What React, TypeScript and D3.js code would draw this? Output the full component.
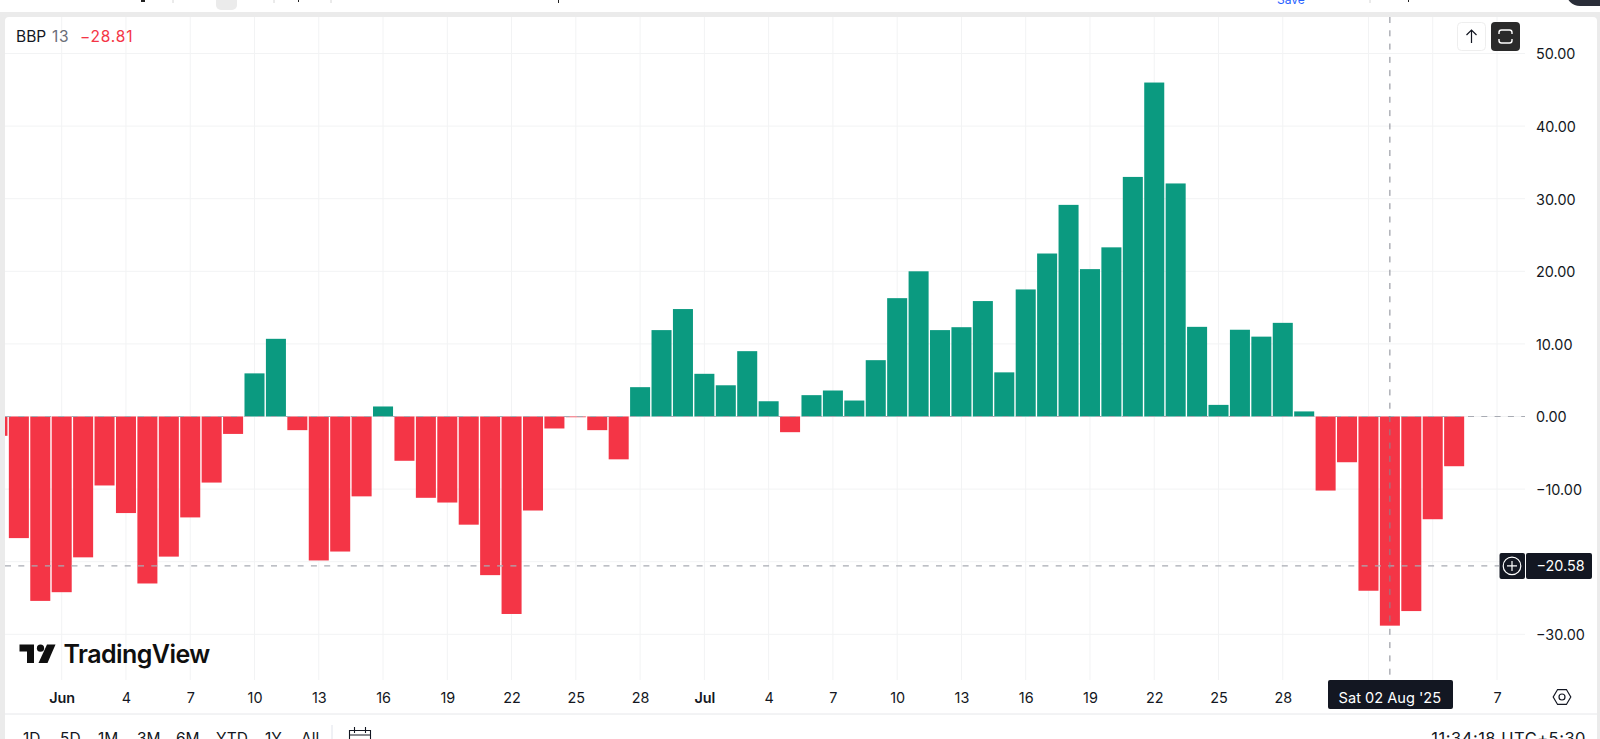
import { useEffect, useRef } from 'react';
import * as d3 from 'd3';

// daily BBP 13 values, first bar is 29 May 2025 (clipped by the pane edge)
const firstDay = '2025-05-29';
const bbpValues = [
    -2.66, -16.75, -25.4, -24.2, -19.4, -9.5, -13.3, -23, -19.3, -13.9, -9.1, -2.4,
    5.94, 10.7, -1.88, -19.83, -18.6, -11, 1.38, -6.1, -11.2, -11.85, -14.9, -21.85,
    -27.2, -12.95, -1.65, -0.1, -1.88, -5.9, 4.04, 11.9, 14.8, 5.88, 4.3, 9, 2.1,
    -2.16, 2.94, 3.58, 2.2, 7.76, 16.3, 20, 11.9, 12.3, 15.9, 6.08, 17.5, 22.45,
    29.15, 20.3, 23.3, 33, 46, 32.1, 12.35, 1.6, 11.95, 11, 12.9, 0.7, -10.2, -6.3,
    -24, -28.81, -26.8, -14.15, -6.85,
];

const priceTicks = [50, 40, 30, 20, 10, 0, -10, -20, -30];
const gridDays = [
    '2025-06-01', '2025-06-04', '2025-06-07', '2025-06-10', '2025-06-13', '2025-06-16',
    '2025-06-19', '2025-06-22', '2025-06-25', '2025-06-28', '2025-07-01', '2025-07-04',
    '2025-07-07', '2025-07-10', '2025-07-13', '2025-07-16', '2025-07-19', '2025-07-22',
    '2025-07-25', '2025-07-28', '2025-08-01', '2025-08-04', '2025-08-07',
];
// Aug and 4 sit under the crosshair date label, -20.00 under the price label
const labelDays = gridDays.filter(d => d !== '2025-08-01' && d !== '2025-08-04');
const labelPrices = priceTicks.filter(p => p !== -20);
const rangeButtons = ['1D', '5D', '1M', '3M', '6M', 'YTD', '1Y', 'All'];
const rangeButtonX = [23, 60, 98, 137, 176, 216, 265, 301];
const crosshairDay = '2025-08-02';
const crosshairValue = -20.58;

const UP = '#0B9A80';
const DOWN = '#F43546';
const INK = '#131722';
const GRID = '#f2f3f4';
const FONT = 'Inter, sans-serif';

const parseDay = d3.utcParse('%Y-%m-%d');
const minus = (s: string) => s.replace('-', '\u2212');

export default function App() {
    const svgRef = useRef<SVGSVGElement>(null);

    useEffect(() => {
        if (!svgRef.current) return;
        document.body.style.margin = '0';

        const width = 1600;
        const height = 739;
        const pane = { left: 5, right: 1525, top: 17, bottom: 680 };

        const svg = d3.select(svgRef.current);
        svg.selectAll('*').remove();
        svg.attr('font-family', FONT);

        // Scales
        const xScale = d3.scaleUtc()
            .domain([parseDay('2025-06-01') as Date, parseDay('2025-08-07') as Date])
            .range([61.7, 1497]);
        const yScale = d3.scaleLinear().domain([-30, 50]).range([634.3, 53.5]);

        const start = parseDay(firstDay) as Date;
        const bars = bbpValues.map((value, i) => ({ date: d3.utcDay.offset(start, i), value }));

        // Window frame
        svg.append('rect').attr('width', width).attr('height', height).attr('fill', '#ffffff');
        svg.append('rect').attr('y', 12).attr('width', width).attr('height', height - 12).attr('fill', '#ebebeb');
        svg.append('rect')
            .attr('x', pane.left).attr('y', pane.top)
            .attr('width', 1592).attr('height', height)
            .attr('rx', 4)
            .attr('fill', '#ffffff');

        // Clipped bits of the page toolbar above the chart
        [173, 274, 331, 1370].forEach(x => {
            svg.append('line').attr('x1', x).attr('x2', x).attr('y1', 0).attr('y2', 3).attr('stroke', '#d6d6d6');
        });
        svg.append('rect').attr('x', 216).attr('y', -6).attr('width', 21).attr('height', 16).attr('rx', 5).attr('fill', '#ebebeb');
        svg.append('rect').attr('x', 141).attr('y', 0).attr('width', 4).attr('height', 2).attr('fill', '#222');
        svg.append('rect').attr('x', 298).attr('y', 0).attr('width', 1).attr('height', 2).attr('fill', '#222');
        svg.append('rect').attr('x', 558).attr('y', 0).attr('width', 1).attr('height', 3).attr('fill', '#222');
        svg.append('rect').attr('x', 1408).attr('y', 0).attr('width', 1).attr('height', 2).attr('fill', '#222');
        svg.append('rect').attr('x', 1566).attr('y', -24).attr('width', 60).attr('height', 30).attr('rx', 14).attr('fill', '#2a2e39');
        svg.append('text').attr('x', 1277).attr('y', 4).attr('font-size', 12).attr('fill', '#2962ff').text('Save');

        const defs = svg.append('defs');
        defs.append('clipPath').attr('id', 'pane-clip').append('rect')
            .attr('x', pane.left).attr('y', pane.top)
            .attr('width', pane.right - pane.left).attr('height', pane.bottom - pane.top);

        // Grid
        const grid = svg.append('g').attr('stroke', GRID).attr('stroke-width', 1);
        grid.selectAll('.v')
            .data(gridDays)
            .join('line')
            .attr('x1', d => xScale(parseDay(d) as Date))
            .attr('x2', d => xScale(parseDay(d) as Date))
            .attr('y1', pane.top)
            .attr('y2', pane.bottom);
        grid.selectAll('.h')
            .data(priceTicks)
            .join('line')
            .attr('x1', pane.left)
            .attr('x2', pane.right)
            .attr('y1', d => yScale(d))
            .attr('y2', d => yScale(d));

        // Histogram
        const dayStep = xScale(d3.utcDay.offset(start, 1)) - xScale(start);
        const barWidth = dayStep - 1.4;
        svg.append('g')
            .attr('clip-path', 'url(#pane-clip)')
            .selectAll('rect')
            .data(bars)
            .join('rect')
            .attr('x', d => xScale(d.date) - barWidth / 2)
            .attr('width', barWidth)
            .attr('y', d => yScale(Math.max(d.value, 0)))
            .attr('height', d => Math.abs(yScale(d.value) - yScale(0)))
            .attr('fill', d => (d.value >= 0 ? UP : DOWN));

        // Zero level and crosshair
        const dash = '6 7.3';
        svg.append('line')
            .attr('x1', pane.left).attr('x2', pane.right)
            .attr('y1', yScale(0)).attr('y2', yScale(0))
            .attr('stroke', '#a8abb3').attr('stroke-width', 1.2).attr('stroke-dasharray', dash);
        svg.append('line')
            .attr('x1', pane.left).attr('x2', 1499)
            .attr('y1', yScale(crosshairValue)).attr('y2', yScale(crosshairValue))
            .attr('stroke', '#a8abb3').attr('stroke-width', 1.2).attr('stroke-dasharray', dash);
        const crossX = xScale(parseDay(crosshairDay) as Date);
        svg.append('line')
            .attr('x1', crossX).attr('x2', crossX)
            .attr('y1', pane.top).attr('y2', pane.bottom)
            .attr('stroke', '#868993').attr('stroke-width', 1).attr('stroke-dasharray', dash);

        // Price axis
        const yAxis = d3.axisRight(yScale)
            .tickValues(labelPrices)
            .tickSize(0)
            .tickPadding(0)
            .tickFormat(d => minus(d3.format('.2f')(d as number)));
        const yAxisG = svg.append('g').attr('transform', 'translate(1536,0.8)').call(yAxis);
        yAxisG.select('.domain').remove();
        yAxisG.selectAll('text')
            .attr('font-family', FONT)
            .attr('font-size', 14.4)
            .attr('fill', INK);

        // Time axis
        const xAxis = d3.axisBottom(xScale)
            .tickValues(labelDays.map(d => parseDay(d) as Date))
            .tickSize(0)
            .tickPadding(0)
            .tickFormat(d => {
                const date = d as Date;
                return date.getUTCDate() === 1 ? d3.utcFormat('%b')(date) : String(date.getUTCDate());
            });
        const xAxisG = svg.append('g').attr('transform', 'translate(0,693)').call(xAxis);
        xAxisG.select('.domain').remove();
        xAxisG.selectAll('text')
            .attr('font-family', FONT)
            .attr('font-size', 14.4)
            .attr('fill', INK)
            .attr('font-weight', d => ((d as Date).getUTCDate() === 1 ? 600 : 400));

        svg.append('line')
            .attr('x1', pane.left).attr('x2', 1597)
            .attr('y1', 714).attr('y2', 714)
            .attr('stroke', '#e6e7ea');

        // Legend
        const legend = svg.append('text').attr('y', 42).attr('font-size', 15.5);
        legend.append('tspan').attr('x', 16).attr('fill', INK).text('BBP');
        legend.append('tspan').attr('x', 52).attr('letter-spacing', 0.6).attr('fill', '#6a6d78').text('13');
        legend.append('tspan').attr('x', 80).attr('letter-spacing', 0.8).attr('fill', DOWN).text(minus(bars[65].value.toFixed(2)));

        // Pane buttons
        svg.append('rect')
            .attr('x', 1457.5).attr('y', 22.5).attr('width', 28).attr('height', 28).attr('rx', 4)
            .attr('fill', '#ffffff').attr('stroke', '#eeeeee');
        svg.append('path')
            .attr('d', 'M1471.5 43V30M1466.5 35L1471.5 30L1476.5 35')
            .attr('fill', 'none').attr('stroke', INK).attr('stroke-width', 1.2);
        svg.append('rect')
            .attr('x', 1491).attr('y', 22).attr('width', 29).attr('height', 29).attr('rx', 4)
            .attr('fill', '#2a2a2a');
        svg.append('path')
            .attr('d', 'M1499 34V32.5Q1499 30 1501.5 30H1509.5Q1512 30 1512 32.5V34M1499 39V40.5Q1499 43 1501.5 43H1509.5Q1512 43 1512 40.5V39')
            .attr('fill', 'none').attr('stroke', '#ffffff').attr('stroke-width', 1.4);

        // TradingView mark
        const logo = svg.append('g').attr('fill', '#0f0f0f');
        logo.append('path').attr('d', 'M19.5 644.5H34V663H27V651.5H19.5Z');
        logo.append('circle').attr('cx', 40.5).attr('cy', 648.2).attr('r', 3.6);
        logo.append('path').attr('d', 'M47 644.5H55.5L47.5 663H38.5Z');
        logo.append('text')
            .attr('x', 63.5).attr('y', 663)
            .attr('font-size', 25)
            .attr('font-weight', 600)
            .attr('letter-spacing', -0.55)
            .text('TradingView');

        // Crosshair labels
        const priceY = yScale(crosshairValue);
        svg.append('rect')
            .attr('x', 1499.5).attr('y', priceY - 13).attr('width', 25.5).attr('height', 26).attr('rx', 2)
            .attr('fill', INK);
        svg.append('circle')
            .attr('cx', 1512).attr('cy', priceY).attr('r', 8.8)
            .attr('fill', 'none').attr('stroke', '#ffffff').attr('stroke-width', 1.2);
        svg.append('path')
            .attr('d', `M1507 ${priceY}H1517M1512 ${priceY - 5}V${priceY + 5}`)
            .attr('stroke', '#ffffff').attr('stroke-width', 1.2);
        svg.append('rect')
            .attr('x', 1526).attr('y', priceY - 13).attr('width', 66).attr('height', 26).attr('rx', 2)
            .attr('fill', INK);
        svg.append('text')
            .attr('x', 1536.5).attr('y', priceY + 5.2)
            .attr('font-size', 14.4)
            .attr('fill', '#ffffff')
            .text(minus(crosshairValue.toFixed(2)));

        svg.append('rect')
            .attr('x', 1328).attr('y', 680).attr('width', 125).attr('height', 29).attr('rx', 2)
            .attr('fill', INK);
        svg.append('text')
            .attr('x', crossX).attr('y', 702.5)
            .attr('text-anchor', 'middle')
            .attr('font-size', 14.6)
            .attr('fill', '#ffffff')
            .text(d3.utcFormat("%a %d %b '%y")(parseDay(crosshairDay) as Date));

        // Settings hexagon
        const hex = d3.range(6).map(i => {
            const a = (Math.PI / 3) * i;
            return [1562 + 8.8 * Math.cos(a), 697 + 8.6 * Math.sin(a)] as [number, number];
        });
        svg.append('path')
            .attr('d', `${d3.line()(hex)}Z`)
            .attr('fill', 'none').attr('stroke', INK).attr('stroke-width', 1.2);
        svg.append('circle')
            .attr('cx', 1562).attr('cy', 697).attr('r', 3)
            .attr('fill', 'none').attr('stroke', INK).attr('stroke-width', 1.2);

        // Bottom toolbar, cut off by the screenshot
        svg.selectAll('.range')
            .data(rangeButtons)
            .join('text')
            .attr('x', (_, i) => rangeButtonX[i])
            .attr('y', 744)
            .attr('font-size', 15.5)
            .attr('fill', INK)
            .text(d => d);
        svg.append('line').attr('x1', 332).attr('x2', 332).attr('y1', 725).attr('y2', 739).attr('stroke', '#e0e3eb');
        svg.append('path')
            .attr('d', 'M349.5 739V730.5H370.5V739M349.5 735H370.5M354.5 727V733M365.5 727V733')
            .attr('fill', 'none').attr('stroke', INK).attr('stroke-width', 1.1);
        svg.append('text')
            .attr('x', 1586).attr('y', 744)
            .attr('text-anchor', 'end')
            .attr('font-size', 16.5)
            .attr('letter-spacing', 0.5)
            .attr('fill', INK)
            .text('11:34:18 UTC+5:30');
    }, []);

    return <svg ref={svgRef} width={1600} height={739} style={{ display: 'block' }} />;
}
